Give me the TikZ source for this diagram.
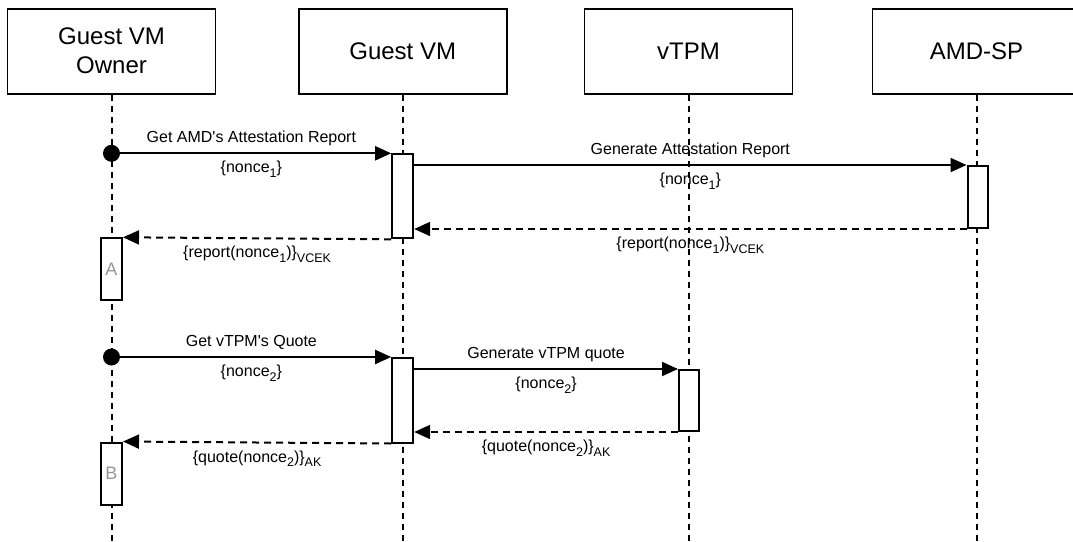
\documentclass[tikz,border=0pt]{standalone}
\usepackage{fontspec}
\setmainfont{Liberation Sans}
\usetikzlibrary{arrows.meta}
\definecolor{lblgray}{RGB}{150,150,150}
% lowered, smaller subscript for message labels
\newcommand\lowsub[1]{\raisebox{-4.5pt}{\fontsize{12.5}{12.5}\selectfont #1}}

\begin{document}
\begin{tikzpicture}[x=1pt,y=-1pt,
  actor/.style={draw, line width=1.7pt, fill=white, minimum width=208pt,
    minimum height=85pt, inner sep=0pt, align=center,
    font=\fontsize{24}{29}\selectfont},
  lifeline/.style={line width=2pt, dash pattern=on 6pt off 5pt},
  act/.style={draw, fill=white, line width=2pt, minimum width=21pt,
    inner sep=0pt, anchor=north, text=lblgray, font=\fontsize{18}{18}\selectfont},
  msg/.style={line width=2pt, -{Triangle[length=16pt,width=14pt]}},
  reply/.style={msg, dash pattern=on 7pt off 5pt},
  dot/.style={circle, fill=black, inner sep=0pt, minimum size=17pt},
  txtup/.style={midway, anchor=base, yshift=11pt, font=\fontsize{16}{19}\selectfont},
  txtdown/.style={midway, anchor=base, yshift=-19.5pt, font=\fontsize{16}{19}\selectfont}
]
\useasboundingbox (0,0) rectangle (1073,541);

% participants
\node[actor] (own) at (111.5,51.2) {Guest VM\\Owner};
\node[actor] (gvm) at (402.7,51.2) {Guest VM};
\node[actor] (tpm) at (688.5,51.2) {vTPM};
\node[actor] (amd) at (976.5,51.2) {AMD-SP};

% lifelines
\coordinate (ownEnd) at (111.5,541);
\coordinate (gvmEnd) at (402.7,541);
\coordinate (tpmEnd) at (688.5,541);
\coordinate (amdEnd) at (976.5,541);
\draw[lifeline] (own.south) -- (ownEnd);
\draw[lifeline] (gvm.south) -- (gvmEnd);
\draw[lifeline] (tpm.south) -- (tpmEnd);
\draw[lifeline] (amd.south) -- (amdEnd);

% activation bars
\node[act, minimum height=84pt] (gv1) at (402.7,153.3) {};
\node[act, minimum width=20pt, minimum height=62pt] (amd1) at (977.5,165) {};
\node[act, minimum height=62pt] (ownA) at (111.5,237.3) {A};
\node[act, minimum height=84.5pt] (gv2) at (402.7,357) {};
\node[act, minimum width=20pt, minimum height=61pt] (tpm1) at (689,369) {};
\node[act, minimum height=62.5pt] (ownB) at (111.5,441.5) {B};

% first exchange: attestation report
\node[dot] (d1) at (111.5,153.3) {};
\draw[msg] (d1.center) -- (gv1.north west)
  node[txtup] {Get AMD\textquotesingle s Attestation Report}
  node[txtdown] {\{nonce\lowsub{1}\}};
\draw[msg] (gv1.east |- amd1.north) -- (amd1.north west)
  node[txtup] {Generate Attestation Report}
  node[txtdown] {\{nonce\lowsub{1}\}};
\draw[reply] (amd1.south west) -- (gv1.east |- amd1.south)
  node[txtdown] {\{report(nonce\lowsub{1})\}\lowsub{VCEK}};
\draw[reply] (gv1.south west) -- (ownA.north east)
  node[txtdown] {\{report(nonce\lowsub{1})\}\lowsub{VCEK}};

% second exchange: vTPM quote
\node[dot] (d2) at (111.5,357) {};
\draw[msg] (d2.center) -- (gv2.north west)
  node[txtup] {Get vTPM\textquotesingle s Quote}
  node[txtdown] {\{nonce\lowsub{2}\}};
\draw[msg] (gv2.east |- tpm1.north) -- (tpm1.north west)
  node[txtup] {Generate vTPM quote}
  node[txtdown] {\{nonce\lowsub{2}\}};
\draw[reply] (tpm1.south west) -- (gv2.east |- tpm1.south)
  node[txtdown] {\{quote(nonce\lowsub{2})\}\lowsub{AK}};
\draw[reply] (gv2.south west) -- (ownB.north east)
  node[txtdown] {\{quote(nonce\lowsub{2})\}\lowsub{AK}};
\end{tikzpicture}
\end{document}
